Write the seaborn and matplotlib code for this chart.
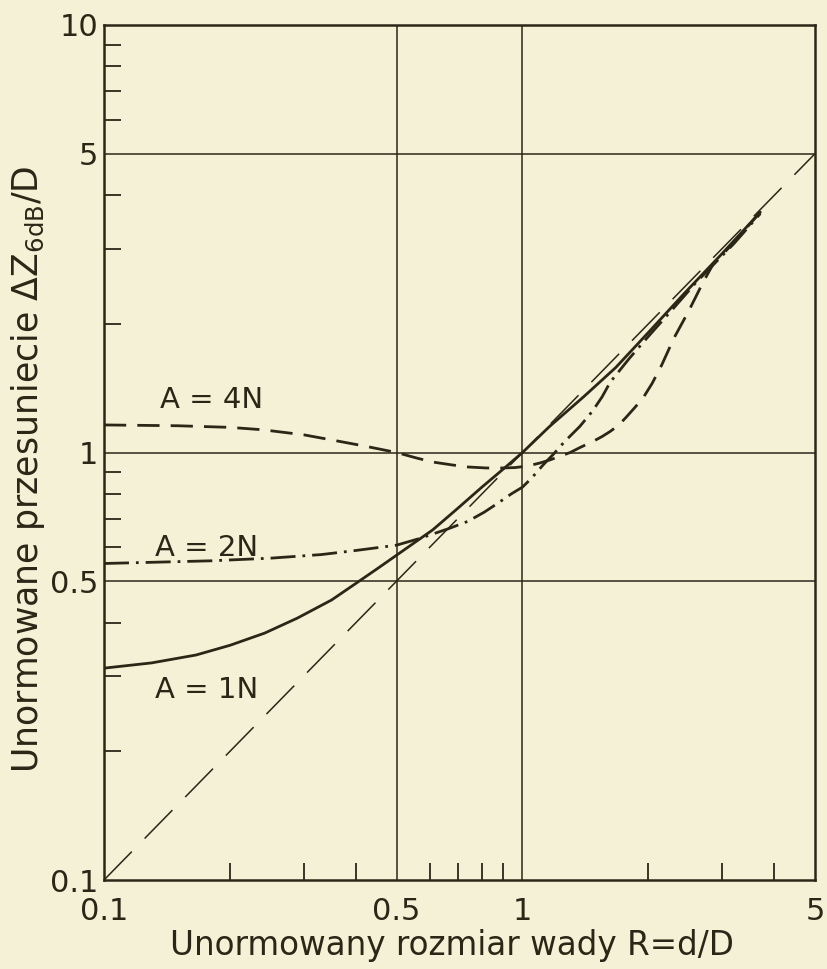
import numpy as np
import pandas as pd
import matplotlib
matplotlib.use("Agg")
import matplotlib.pyplot as plt
from matplotlib.ticker import FixedLocator, NullFormatter, FixedFormatter
import seaborn as sns

# ---- data ----
x_1n = [0.1, 0.13, 0.166, 0.2, 0.242, 0.29, 0.35, 0.407, 0.45, 0.5, 0.61, 0.7, 0.8, 0.9,
        1.0, 1.16, 1.4, 1.67, 2.0, 2.44, 3.0, 3.7]
y_1n = [0.313, 0.322, 0.336, 0.354, 0.378, 0.41, 0.452, 0.5, 0.535, 0.575, 0.659, 0.74, 0.83, 0.915,
        1.0, 1.15, 1.35, 1.58, 1.91, 2.36, 2.92, 3.65]

x_2n = [0.1, 0.18, 0.25, 0.33, 0.4, 0.5, 0.57, 0.67, 0.74, 0.81, 0.88, 0.94, 1.0, 1.05, 1.12,
        1.19, 1.26, 1.37, 1.47, 1.55, 1.62, 1.8, 2.0, 2.3, 2.6, 3.2, 3.7]
y_2n = [0.55, 0.558, 0.566, 0.577, 0.59, 0.607, 0.63, 0.665, 0.69, 0.725, 0.765, 0.80, 0.83, 0.87, 0.935,
        0.995, 1.06, 1.15, 1.25, 1.35, 1.46, 1.66, 1.87, 2.18, 2.5, 3.08, 3.62]

x_4n = [0.1, 0.15, 0.2, 0.24, 0.3, 0.35, 0.42, 0.5, 0.56, 0.61, 0.68, 0.74, 0.82, 0.89, 0.96,
        1.03, 1.1, 1.16, 1.23, 1.3, 1.38, 1.47, 1.55, 1.62, 1.7, 1.77, 1.85, 1.94, 2.04, 2.15,
        2.3, 2.5, 2.7, 2.85, 3.2, 3.7]
y_4n = [1.16, 1.155, 1.145, 1.13, 1.1, 1.07, 1.035, 1.0, 0.97, 0.95, 0.935, 0.925, 0.92, 0.92, 0.922,
        0.93, 0.945, 0.96, 0.98, 1.0, 1.03, 1.06, 1.09, 1.12, 1.16, 1.21, 1.27, 1.34, 1.45, 1.6,
        1.85, 2.15, 2.5, 2.75, 3.1, 3.65]

x_diag = [0.1, 5.0]
y_diag = [0.1, 5.0]

x_ticks = [0.1, 0.5, 1, 5]
x_ticklabels = ["0.1", "0.5", "1", "5"]
y_ticks = [0.1, 0.5, 1, 5, 10]
y_ticklabels = ["0.1", "0.5", "1", "5", "10"]
x_grid = [0.5, 1]
y_grid = [0.5, 1, 5]
x_minor = [0.2, 0.3, 0.4, 0.6, 0.7, 0.8, 0.9, 2, 3, 4]
y_minor = [0.2, 0.3, 0.4, 0.6, 0.7, 0.8, 0.9, 2, 3, 4, 6, 7, 8, 9]

labels = ["A = 4N", "A = 2N", "A = 1N"]
label_pos = [(0.136, 1.327), (0.1323, 0.598), (0.1323, 0.278)]

# ---- style ----
sns.set_theme(style="white")
plt.rcParams["font.family"] = ["DejaVu Sans"]
plt.rcParams["mathtext.default"] = "regular"

BG = "#f5f1d6"
INK = "#2b2717"

fig = plt.figure(figsize=(8.28, 9.69), dpi=100, facecolor=BG)
ax = fig.add_axes([104 / 828, 1 - 880 / 969, (815 - 104) / 828, (880 - 25) / 969])
ax.set_facecolor(BG)
ax.set_xscale("log")
ax.set_yscale("log")
ax.set_xlim(0.1, 5)
ax.set_ylim(0.1, 10)

for gx in x_grid:
    ax.axvline(gx, color=INK, lw=1.1, zorder=1)
for gy in y_grid:
    ax.axhline(gy, color=INK, lw=1.1, zorder=1)

df_diag = pd.DataFrame({"x": x_diag, "y": y_diag})
sns.lineplot(data=df_diag, x="x", y="y", ax=ax, color=INK, lw=1.1,
             linestyle=(0, (26, 12)), zorder=2)

df1 = pd.DataFrame({"x": x_1n, "y": y_1n})
sns.lineplot(data=df1, x="x", y="y", ax=ax, color=INK, lw=2.0, zorder=3)

df2 = pd.DataFrame({"x": x_2n, "y": y_2n})
sns.lineplot(data=df2, x="x", y="y", ax=ax, color=INK, lw=2.0,
             linestyle=(0, (9, 2.5, 1, 2.5)), zorder=3)

df4 = pd.DataFrame({"x": x_4n, "y": y_4n})
sns.lineplot(data=df4, x="x", y="y", ax=ax, color=INK, lw=2.0,
             linestyle=(0, (8, 4)), zorder=3)

for lab, (lx, ly) in zip(labels, label_pos):
    ax.text(lx, ly, lab, fontsize=21, color=INK, ha="left", va="center")

for s in ax.spines.values():
    s.set_color(INK)
    s.set_linewidth(1.8)

ax.xaxis.set_major_locator(FixedLocator(x_ticks))
ax.xaxis.set_major_formatter(FixedFormatter(x_ticklabels))
ax.yaxis.set_major_locator(FixedLocator(y_ticks))
ax.yaxis.set_major_formatter(FixedFormatter(y_ticklabels))
ax.xaxis.set_minor_locator(FixedLocator(x_minor))
ax.yaxis.set_minor_locator(FixedLocator(y_minor))
ax.xaxis.set_minor_formatter(NullFormatter())
ax.yaxis.set_minor_formatter(NullFormatter())
ax.tick_params(bottom=True, left=True, top=False, right=False, which="both")
ax.tick_params(axis="both", which="major", length=0, labelsize=22, labelcolor=INK)
ax.tick_params(axis="x", which="major", pad=12)
ax.tick_params(axis="y", which="major", pad=4)
ax.tick_params(axis="both", which="minor", direction="in", length=12, width=1.3, color=INK)

ax.set_xlabel("Unormowany rozmiar wady R=d/D", fontsize=23.5, color=INK)
ax.set_ylabel("Unormowane przesuniecie ΔZ$_{6dB}$/D", fontsize=25, color=INK)
ax.xaxis.set_label_coords(0.49, -0.057)
ax.yaxis.set_label_coords(-0.08, 0.48)

fig.savefig("out.png", dpi=100, facecolor=BG)
